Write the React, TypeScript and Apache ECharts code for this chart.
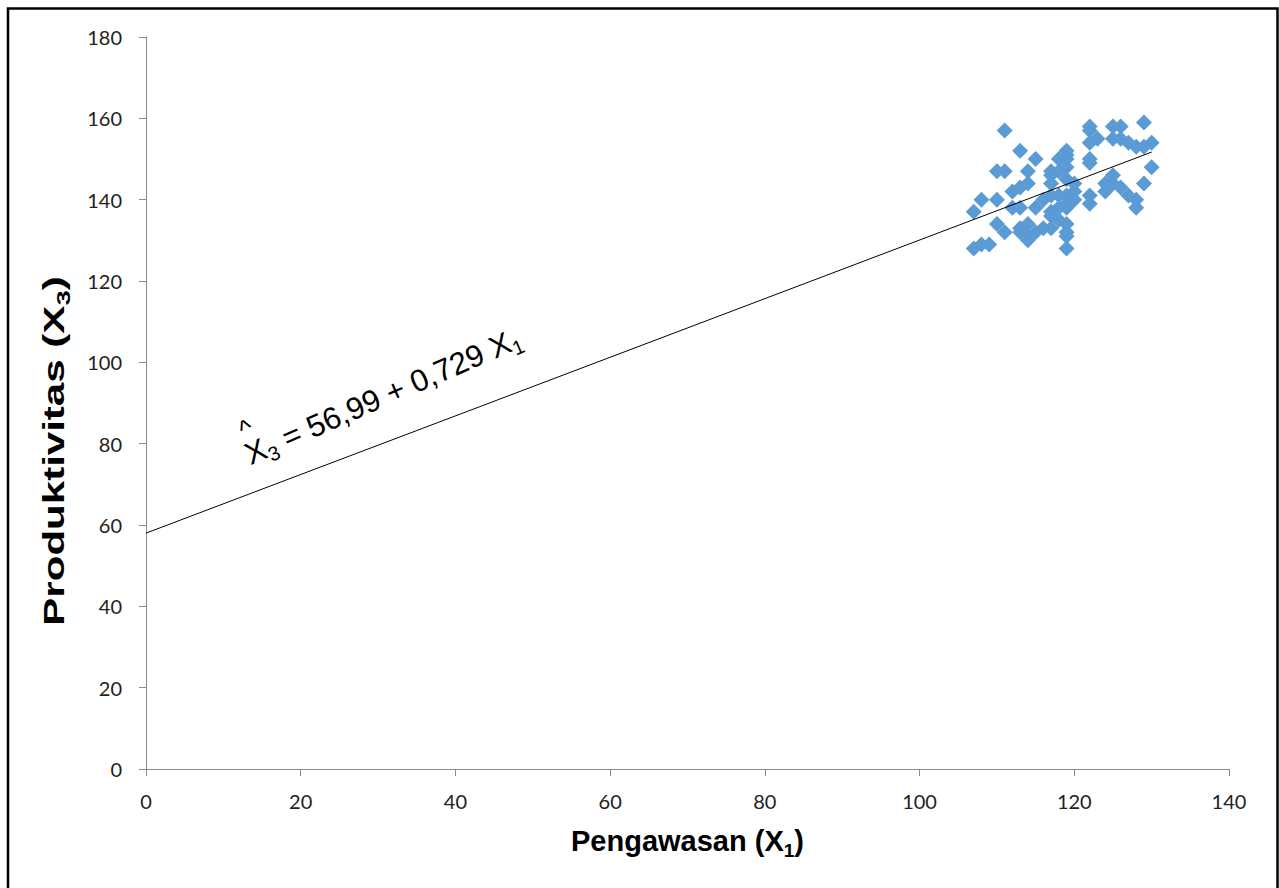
import React, { useEffect, useRef } from "react";
import * as echarts from "echarts";

const pengawasan = [
  107, 107, 108, 108, 109, 110, 110, 110, 111, 111, 111, 112, 112, 113, 113, 113, 113, 113,
  114, 114, 114, 114, 114, 115, 115, 115, 116, 116, 117, 117, 117, 117, 117, 117, 117,
  118, 118, 118, 118, 118, 119, 119, 119, 119, 119, 119, 119, 119, 119, 119, 119, 119,
  120, 120, 120, 122, 122, 122, 122, 122, 122, 122, 123, 124, 124, 125, 125, 125, 125,
  126, 126, 126, 127, 127, 128, 128, 128, 129, 129, 129, 130, 130,
];
const produktivitas = [
  137, 128, 129, 140, 129, 147, 140, 134, 157, 147, 132, 142, 138, 152, 143, 138, 133, 132,
  147, 144, 134, 131, 130, 150, 138, 132, 140, 133, 147, 146, 144, 141, 137, 136, 133,
  150, 147, 141, 138, 135, 152, 151, 150, 148, 145, 141, 139, 138, 134, 132, 131, 128,
  144, 142, 140, 158, 157, 154, 150, 149, 141, 139, 155, 144, 142, 158, 155, 146, 144,
  158, 155, 143, 154, 141, 153, 140, 138, 159, 153, 144, 154, 148,
];
const trendX = [0, 130];
const trendY = [58, 151.7];
const xTicks = [0, 20, 40, 60, 80, 100, 120, 140];
const yTicks = [0, 20, 40, 60, 80, 100, 120, 140, 160, 180];

export default function App() {
  const ref = useRef<HTMLDivElement>(null);
  useEffect(() => {
    if (!ref.current) return;
    const chart = echarts.init(ref.current, null, { renderer: "svg" });
    const tickFont = { fontFamily: "Lato", fontSize: 20, color: "#222" };
    const nameRich = {
      m: { fontFamily: "Liberation Sans", fontWeight: "bold", fontSize: 29, lineHeight: 38, color: "#000" },
      s: { fontFamily: "Liberation Sans", fontWeight: "bold", fontSize: 19, lineHeight: 38, verticalAlign: "bottom", color: "#000" },
    } as any;
    const gRich = {
      m: { fontFamily: "Liberation Sans", fontWeight: "bold", fontSize: 29, lineHeight: 38, fill: "#000" },
      s: { fontFamily: "Liberation Sans", fontWeight: "bold", fontSize: 19, lineHeight: 38, verticalAlign: "bottom", fill: "#000" },
    } as any;
    chart.setOption({
      animation: false,
      backgroundColor: "#fff",
      grid: { left: 146, right: 50, top: 37, bottom: 119, containLabel: false },
      xAxis: {
        type: "value",
        min: xTicks[0],
        max: xTicks[xTicks.length - 1],
        interval: 20,
        axisLine: { show: true, lineStyle: { color: "#8a8a8a", width: 1 } },
        axisTick: { show: true, length: 7, lineStyle: { color: "#8a8a8a" } },
        splitLine: { show: false },
        axisLabel: { ...tickFont, margin: 22 },
        name: "{m|Pengawasan (X}{s|1}{m|)}",
        nameLocation: "middle",
        nameGap: 53,
        nameTextStyle: { rich: nameRich },
      },
      yAxis: {
        type: "value",
        min: yTicks[0],
        max: yTicks[yTicks.length - 1],
        interval: 20,
        axisLine: { show: true, lineStyle: { color: "#8a8a8a", width: 1 } },
        axisTick: { show: true, length: 7, lineStyle: { color: "#8a8a8a" } },
        splitLine: { show: false },
        axisLabel: { ...tickFont, margin: 24 },
      },
      series: [
        {
          type: "line",
          data: trendX.map((x, i) => [x, trendY[i]]),
          symbol: "none",
          lineStyle: { color: "#000", width: 1 },
          z: 3,
        },
        {
          type: "scatter",
          data: pengawasan.map((x, i) => [x, produktivitas[i]]),
          symbol: "diamond",
          symbolSize: 16,
          itemStyle: { color: "#5B9BD5", opacity: 1 },
          z: 2,
        },
      ],
      graphic: [
        {
          type: "rect",
          shape: { x: 8, y: 8.5, width: 1269.5, height: 1000 },
          style: { fill: "none", stroke: "#000", lineWidth: 2.5 },
          silent: true,
        },
        {
          type: "text",
          x: 54,
          y: 451,
          rotation: Math.PI / 2,
          scaleX: 1.45,
          style: {
            text: "{m|Produktivitas (X}{s|3}{m|)}",
            align: "center",
            verticalAlign: "middle",
            rich: gRich,
          },
        },
        {
          type: "group",
          x: 254,
          y: 473,
          rotation: 0.41,
          children: [
            {
              type: "text",
              x: 0,
              y: 0,
              style: {
                text: "{m|X}{s|3}{m| = 56,99 + 0,729 X}{s|1}",
                verticalAlign: "bottom",
                align: "left",
                rich: {
                  m: { fontFamily: "Liberation Sans", fontSize: 31, lineHeight: 38, fill: "#000" },
                  s: { fontFamily: "Liberation Sans", fontSize: 20, lineHeight: 38, verticalAlign: "bottom", fill: "#000" },
                },
              },
            },
            {
              type: "text",
              x: 4,
              y: -31,
              style: {
                text: "^",
                fontFamily: "Liberation Sans",
                fontSize: 26,
                fill: "#000",
                verticalAlign: "bottom",
                align: "left",
              },
            },
          ],
        },
      ],
    });
    return () => chart.dispose();
  }, []);
  return (
    <div
      ref={ref}
      style={{ position: "fixed", left: 0, top: 0, width: 1279, height: 888 }}
    />
  );
}
